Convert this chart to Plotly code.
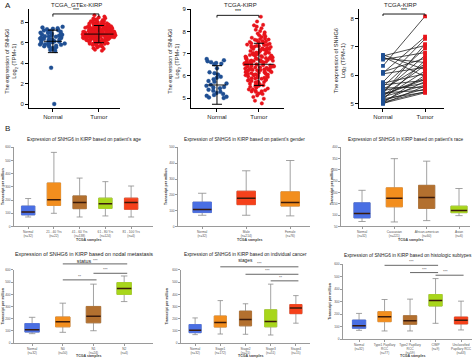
import plotly.graph_objects as go

W, H = 474, 361
FONT = "Liberation Sans, Arial, sans-serif"

# ---------------- Panel A data (log2(TPM+1)) ----------------
a_groups = ["Normal", "Tumor"]

a1_normal = [7.55, 7.48, 7.40, 7.36, 7.31, 7.22, 7.18, 7.15, 7.08, 7.02, 6.97, 6.95, 6.88, 6.84,
             6.80, 6.77, 6.71, 6.69, 6.63, 6.60, 6.58, 6.52, 6.49, 6.45, 6.41, 6.39, 6.34, 6.31,
             6.28, 6.22, 6.20, 6.17, 6.13, 6.10, 6.05, 6.02, 5.98, 5.95, 5.91, 5.86, 5.82, 5.79,
             5.74, 5.70, 5.66, 5.61, 5.55, 5.49, 5.42, 5.35, 5.28, 5.20, 3.55, 0.02]
a1_tumor = [8.68, 8.55, 8.47, 8.40, 8.36, 8.29, 8.22, 8.19, 8.13, 8.10, 8.06, 8.03, 7.99, 7.95, 7.92,
            7.90, 7.86, 7.84, 7.81, 7.78, 7.77, 7.74, 7.72, 7.70, 7.68, 7.65, 7.63, 7.61, 7.59, 7.57,
            7.56, 7.54, 7.52, 7.50, 7.48, 7.46, 7.45, 7.43, 7.41, 7.39, 7.38, 7.36, 7.34, 7.33, 7.31,
            7.29, 7.28, 7.26, 7.25, 7.23, 7.21, 7.20, 7.18, 7.17, 7.15, 7.14, 7.12, 7.11, 7.09, 7.08,
            7.07, 7.05, 7.04, 7.02, 7.01, 7.00, 6.98, 6.97, 6.96, 6.94, 6.93, 6.92, 6.90, 6.89, 6.88,
            6.87, 6.85, 6.84, 6.83, 6.81, 6.80, 6.79, 6.78, 6.76, 6.75, 6.74, 6.73, 6.71, 6.70, 6.69,
            6.68, 6.66, 6.65, 6.64, 6.62, 6.61, 6.60, 6.58, 6.57, 6.56, 6.54, 6.53, 6.51, 6.50, 6.48,
            6.47, 6.45, 6.44, 6.42, 6.41, 6.39, 6.37, 6.36, 6.34, 6.32, 6.30, 6.29, 6.27, 6.25, 6.23,
            6.21, 6.19, 6.17, 6.15, 6.13, 6.11, 6.09, 6.06, 6.04, 6.01, 5.98, 5.95, 5.92, 5.89, 5.86,
            5.82, 5.78, 5.74, 5.70, 5.65, 5.60, 5.54, 5.47, 5.40, 5.31, 5.22,
            7.62, 7.44, 7.27, 7.13, 6.99, 6.86, 6.72, 6.59, 6.46, 6.33, 7.71, 7.49, 7.35, 7.19, 7.06,
            6.91, 6.77, 6.63, 6.52, 6.38, 7.58, 7.40, 7.24, 7.10, 6.95, 6.82, 6.67, 6.55, 6.43, 6.26,
            8.25, 7.97, 7.83, 7.53, 7.30, 7.03, 6.74, 6.49, 6.18, 5.90]
a1_mean = [6.13, 6.84]
a1_err = [1.10, 0.84]

a2_normal = [6.76, 6.70, 6.66, 6.62, 6.58, 6.55, 6.52, 6.34, 6.16, 6.12, 6.06, 5.96, 5.85, 5.77,
             5.73, 5.66, 5.60, 5.55, 5.50, 5.44, 5.38, 5.33, 5.28, 5.23, 5.18, 5.14, 5.10, 5.06,
             5.03, 5.00, 5.48, 5.92]
a2_tumor = [8.67, 8.30, 8.22, 8.15, 8.08, 8.02, 7.96, 7.91, 7.87, 7.83, 7.79, 7.75, 7.72, 7.69, 7.66,
            7.63, 7.60, 7.57, 7.55, 7.52, 7.50, 7.47, 7.45, 7.43, 7.40, 7.38, 7.36, 7.34, 7.32, 7.30,
            7.28, 7.26, 7.24, 7.22, 7.20, 7.18, 7.16, 7.14, 7.12, 7.10, 7.08, 7.06, 7.05, 7.03, 7.01,
            6.99, 6.97, 6.96, 6.94, 6.92, 6.90, 6.89, 6.87, 6.85, 6.84, 6.82, 6.80, 6.79, 6.77, 6.76,
            6.74, 6.72, 6.71, 6.69, 6.68, 6.66, 6.65, 6.63, 6.62, 6.60, 6.59, 6.57, 6.56, 6.54, 6.53,
            6.51, 6.50, 6.48, 6.47, 6.45, 6.44, 6.42, 6.41, 6.39, 6.38, 6.36, 6.35, 6.33, 6.32, 6.30,
            6.29, 6.27, 6.26, 6.24, 6.22, 6.21, 6.19, 6.17, 6.16, 6.14, 6.12, 6.10, 6.09, 6.07, 6.05,
            6.03, 6.01, 5.99, 5.97, 5.95, 5.93, 5.91, 5.89, 5.87, 5.84, 5.82, 5.79, 5.77, 5.74, 5.71,
            5.68, 5.65, 5.62, 5.58, 5.55, 5.51, 5.47, 5.43, 5.39, 5.35, 5.31, 5.27, 5.23, 5.18, 5.12,
            5.05, 4.97, 4.88, 4.76,
            7.53, 7.35, 7.19, 7.04, 6.91, 6.78, 6.64, 6.52, 6.40, 6.28, 6.15, 6.02, 5.88, 5.72, 5.53,
            5.33, 7.64, 7.41, 7.21, 7.00, 6.83, 6.67, 6.46, 6.25, 6.06, 5.81, 5.60, 5.40, 8.45, 8.28,
            5.30, 5.20]
a2_mean = [5.59, 6.52]
a2_err = [0.87, 0.95]

a3_normal = [6.72, 6.68, 6.65, 6.60, 6.55, 6.33, 6.12, 6.08, 6.05, 5.76, 5.72, 5.66, 5.60, 5.55,
             5.50, 5.46, 5.42, 5.38, 5.35, 5.31, 5.28, 5.24, 5.20, 5.17, 5.14, 5.11, 5.08, 5.05,
             5.03, 5.01, 4.99, 5.30]
a3_tumor = [6.20, 7.05, 5.95, 6.45, 6.80, 8.08, 6.60, 7.36, 6.28, 7.28, 6.05, 5.82, 6.95, 5.58,
            6.40, 5.72, 6.70, 5.47, 7.10, 5.90, 6.35, 5.65, 6.15, 5.40, 6.52, 5.52, 5.78, 5.42,
            6.00, 5.38, 5.62, 5.85]

# ---------------- Panel B data (transcript per million) ----------------
age_cats = ["Normal<br>(n=32)", "21 - 40 Yrs<br>(n=22)", "41 - 60 Yrs<br>(n=138)",
            "61 - 80 Yrs<br>(n=124)", "81 - 100 Yrs<br>(n=4)"]
age_lo = [72, 100, 72, 80, 72]
age_q1 = [88, 160, 135, 137, 130]
age_med = [110, 202, 182, 172, 182]
age_q3 = [155, 330, 232, 215, 215]
age_hi = [212, 562, 367, 340, 307]

gender_cats = ["Normal<br>(n=32)", "Male<br>(n=214)", "Female<br>(n=76)"]
gender_lo = [71, 71, 67]
gender_q1 = [88, 138, 129]
gender_med = [108, 179, 152]
gender_q3 = [154, 223, 219]
gender_hi = [210, 352, 417]

race_cats = ["Normal<br>(n=32)", "Caucasian<br>(n=221)", "African-american<br>(n=60)", "Asian<br>(n=6)"]
race_lo = [72, 70, 76, 98]
race_q1 = [88, 137, 130, 111]
race_med = [107, 175, 178, 121]
race_q3 = [155, 221, 232, 140]
race_hi = [210, 350, 339, 218]

nodal_cats = ["Normal<br>(n=32)", "N0<br>(n=50)", "N1<br>(n=24)", "N2<br>(n=4)"]
nodal_lo = [78, 89, 102, 341]
nodal_q1 = [91, 134, 167, 400]
nodal_med = [110, 175, 220, 449]
nodal_q3 = [161, 215, 301, 497]
nodal_hi = [212, 328, 484, 551]
nodal_sig = [(1, 3, 650, "***"), (2, 3, 573, "***"), (1, 2, 519, "**")]

stage_cats = ["Normal<br>(n=32)", "Stage1<br>(n=172)", "Stage2<br>(n=21)", "Stage3<br>(n=51)", "Stage4<br>(n=15)"]
stage_lo = [70, 75, 73, 67, 164]
stage_q1 = [86, 132, 142, 134, 242]
stage_med = [105, 169, 194, 177, 288]
stage_q3 = [153, 223, 263, 274, 317]
stage_hi = [207, 349, 323, 484, 390]
stage_sig = [(1, 4, 626, "***"), (2, 4, 565, "***"), (3, 4, 511, "**")]

hist_cats = ["Normal<br>(n=32)", "Type1 Papillary<br>RCC<br>(n=77)", "Type2 Papillary<br>RCC<br>(n=59)",
             "CIMP<br>(n=9)", "Unclassified<br>Papillary RCC<br>(n=63)"]
hist_lo = [71, 66, 66, 127, 74]
hist_q1 = [87, 140, 119, 265, 122]
hist_med = [108, 180, 148, 310, 151]
hist_q3 = [153, 220, 188, 357, 177]
hist_hi = [206, 317, 320, 484, 304]
hist_sig = [(1, 3, 590, "***"), (2, 3, 532, "***"), (3, 4, 511, "***")]

# ---------------- styling ----------------
BLUE_PT = "#1f4f93"
RED_PT = "#e8141b"
C_BLUE = "#4a6fe3"
C_ORANGE = "#f28e1e"
C_BROWN = "#b3702f"
C_LIME = "#a8d61b"
C_RED = "#f5411b"
MED = "#3a1b0c"
WHISK = "#8c8c8c"

fig = go.Figure()
layout = dict(width=W, height=H, margin=dict(l=0, r=0, t=0, b=0),
              paper_bgcolor="white", plot_bgcolor="white", showlegend=False,
              font=dict(family=FONT, color="#222"))
annotations = []
shapes = []


def fx(p):
    return p / W


def fy(p):
    return 1 - p / H


def names(i):
    s = "" if i == 1 else str(i)
    return "x" + s, "y" + s, "xaxis" + s, "yaxis" + s


def add_text(text, xp, yp, size, angle=0, xanchor="center", yanchor="middle", bold=False, color="#222"):
    if bold:
        text = "<b>" + text + "</b>"
    annotations.append(dict(text=text, x=fx(xp), y=fy(yp), xref="paper", yref="paper",
                            showarrow=False, textangle=angle, xanchor=xanchor, yanchor=yanchor,
                            font=dict(size=size, family=FONT, color=color)))


def bracket(i, a, b, v, label, xr, yr, tick=0.0, color="black", width=0.9, fsize=5):
    xn, yn, _, _ = names(i)
    xd = lambda x: (x - xr[0]) / (xr[1] - xr[0])
    yd = lambda y: (y - yr[0]) / (yr[1] - yr[0])
    ln = dict(color=color, width=width)
    shapes.append(dict(type="line", xref=xn + " domain", yref=yn + " domain",
                       x0=xd(a), x1=xd(b), y0=yd(v), y1=yd(v), line=ln))
    if tick:
        for xx in (a, b):
            shapes.append(dict(type="line", xref=xn + " domain", yref=yn + " domain",
                               x0=xd(xx), x1=xd(xx), y0=yd(v), y1=yd(v - tick), line=ln))
    annotations.append(dict(text=label, xref=xn + " domain", yref=yn + " domain",
                            x=xd((a + b) / 2), y=yd(v), yanchor="bottom", showarrow=False,
                            yshift=-1, font=dict(size=fsize, family=FONT, color=color)))


# ---------------- Row A ----------------
rowA = [
    dict(i=1, xd=(29, 120), xr=[-0.52, 1.46], yr=[-0.36, 9.3], yt=[0, 2, 4, 6, 8],
         title="TCGA_GTEx-KIRP", tx=76, ytx=11.5, sig=(8.81, 0.26)),
    dict(i=2, xd=(191, 284), xr=[-0.62, 1.6], yr=[4.56, 9.02], yt=[5, 6, 7, 8, 9],
         title="TCGA-KIRP", tx=240, ytx=174.5, sig=(8.73, 0.10)),
    dict(i=3, xd=(359, 444), xr=[-0.57, 1.45], yr=[4.85, 8.34], yt=[5, 6, 7, 8],
         title="TCGA-KIRP", tx=400, ytx=340, sig=(8.16, 0.07)),
]
for p in rowA:
    xn, yn, xa, ya = names(p["i"])
    layout[xa] = dict(domain=[fx(p["xd"][0]), fx(p["xd"][1])], range=p["xr"], anchor=yn,
                      showline=True, linecolor="black", linewidth=1, ticks="outside", ticklen=3,
                      tickwidth=1, tickcolor="black", tickvals=[0, 1], ticktext=a_groups,
                      tickfont=dict(size=6, color="#222"), showgrid=False, zeroline=False)
    layout[ya] = dict(domain=[fy(107), fy(7)], range=p["yr"], anchor=xn,
                      showline=True, linecolor="black", linewidth=1, ticks="outside", ticklen=3,
                      tickwidth=1, tickcolor="black", tickvals=p["yt"],
                      tickfont=dict(size=6, color="#222"), showgrid=False, zeroline=False)
    add_text(p["title"], p["tx"], 3.5, 6)
    add_text("The expression of SNHG6<br>Log<sub>2</sub> (TPM+1)", p["ytx"], 60, 5.6, angle=-90)
    bracket(p["i"], 0, 1, p["sig"][0], "***", p["xr"], p["yr"], tick=p["sig"][1], fsize=5)

add_text("A", 3, 3.5, 8, xanchor="left")
add_text("B", 3, 128, 8, xanchor="left")

# strip panels 1 and 2
for i, normal, tumor, mean, err in [(1, a1_normal, a1_tumor, a1_mean, a1_err),
                                     (2, a2_normal, a2_tumor, a2_mean, a2_err)]:
    xn, yn, _, _ = names(i)
    for pos, vals, col, w, sz in [(0, normal, BLUE_PT, 0.62, 4.0), (1, tumor, RED_PT, 0.72, 3.6)]:
        fig.add_trace(go.Box(y=vals, x0=pos, width=w, boxpoints="all", jitter=1.0, pointpos=0,
                             fillcolor="rgba(0,0,0,0)", line=dict(width=0, color="rgba(0,0,0,0)"),
                             marker=dict(color=col, size=sz, line=dict(width=0.3, color=col)),
                             hoverinfo="y", xaxis=xn, yaxis=yn))
    fig.add_trace(go.Scatter(x=[0, 1], y=mean, mode="markers", xaxis=xn, yaxis=yn,
                             marker=dict(symbol="line-ew", size=[13, 21], color="black",
                                         line=dict(width=1.3, color="black")),
                             error_y=dict(type="data", array=err, color="black", thickness=1, width=5)))

# paired panel 3
xn, yn, _, _ = names(3)
lx, ly = [], []
for n, t in zip(a3_normal, a3_tumor):
    lx += [0, 1, None]
    ly += [n, t, None]
fig.add_trace(go.Scatter(x=lx, y=ly, mode="lines", line=dict(color="#222", width=0.8),
                         xaxis=xn, yaxis=yn, hoverinfo="skip"))
fig.add_trace(go.Scatter(x=[0] * len(a3_normal), y=a3_normal, mode="markers", xaxis=xn, yaxis=yn,
                         marker=dict(color=BLUE_PT, size=3.8, symbol="square")))
fig.add_trace(go.Scatter(x=[1] * len(a3_tumor), y=a3_tumor, mode="markers", xaxis=xn, yaxis=yn,
                         marker=dict(color=RED_PT, size=3.8, symbol="square")))

# ---------------- Rows B / C (box plots) ----------------
boxpanels = [
    dict(i=4, xd=(14, 153), yd=(147, 227), xr=[-0.55, 4.85], yr=[0, 600], yt=list(range(0, 601, 100)),
         cats=age_cats, lo=age_lo, q1=age_q1, med=age_med, q3=age_q3, hi=age_hi,
         cols=[C_BLUE, C_ORANGE, C_BROWN, C_LIME, C_RED], w=0.52,
         title="Expression of SNHG6 in KIRP based on patient's age", tfs=4.8, ty=139, yl=3, sx=240.5, sig=[]),
    dict(i=5, xd=(178, 310), yd=(147, 227), xr=[-0.55, 2.45], yr=[0, 500], yt=list(range(0, 501, 100)),
         cats=gender_cats, lo=gender_lo, q1=gender_q1, med=gender_med, q3=gender_q3, hi=gender_hi,
         cols=[C_BLUE, C_RED, C_ORANGE], w=0.42,
         title="Expression of SNHG6 in KIRP based on patient's gender", tfs=4.8, ty=139, yl=166, sx=240.5, sig=[]),
    dict(i=6, xd=(341, 470), yd=(147, 227), xr=[-0.65, 3.34], yr=[50, 400], yt=list(range(50, 401, 50)),
         cats=race_cats, lo=race_lo, q1=race_q1, med=race_med, q3=race_q3, hi=race_hi,
         cols=[C_BLUE, C_ORANGE, C_BROWN, C_LIME], w=0.5,
         title="Expression of SNHG6 in KIRP based on patient's race", tfs=4.8, ty=139, yl=332, sx=240.5, sig=[]),
    dict(i=7, xd=(14, 153), yd=(271, 345), xr=[-0.59, 3.94], yr=[0, 600], yt=list(range(0, 601, 100)),
         cats=nodal_cats, lo=nodal_lo, q1=nodal_q1, med=nodal_med, q3=nodal_q3, hi=nodal_hi,
         cols=[C_BLUE, C_ORANGE, C_BROWN, C_LIME], w=0.47,
         title="Expression of SNHG6 in KIRP based on nodal metastasis<br>status", tfs=5.4, ty=258.5, yl=3, sx=358,
         sig=nodal_sig),
    dict(i=8, xd=(181, 310), yd=(271, 345), xr=[-0.56, 4.56], yr=[0, 600], yt=list(range(0, 601, 100)),
         cats=stage_cats, lo=stage_lo, q1=stage_q1, med=stage_med, q3=stage_q3, hi=stage_hi,
         cols=[C_BLUE, C_ORANGE, C_BROWN, C_LIME, C_RED], w=0.48,
         title="Expression of SNHG6 in KIRP based on individual cancer<br>stages", tfs=4.8, ty=258.5, yl=167, sx=358,
         sig=stage_sig),
    dict(i=9, xd=(343, 472), yd=(265, 341), xr=[-0.63, 4.43], yr=[0, 600], yt=list(range(0, 601, 100)),
         cats=hist_cats, lo=hist_lo, q1=hist_q1, med=hist_med, q3=hist_q3, hi=hist_hi,
         cols=[C_BLUE, C_ORANGE, C_BROWN, C_LIME, C_RED], w=0.52,
         title="Expression of SNHG6 in KIRP based on histologic subtypes", tfs=4.8, ty=256, yl=330, sx=358,
         sig=hist_sig),
]

for p in boxpanels:
    xn, yn, xa, ya = names(p["i"])
    n = len(p["cats"])
    layout[xa] = dict(domain=[fx(p["xd"][0]), fx(p["xd"][1])], range=p["xr"], anchor=yn,
                      showline=True, linecolor="#9a9a9a", linewidth=0.7, ticks="outside", ticklen=2,
                      tickwidth=0.6, tickcolor="#9a9a9a", tickvals=list(range(n)), ticktext=p["cats"],
                      tickfont=dict(size=3.2, color="#555"), showgrid=False, zeroline=False)
    layout[ya] = dict(domain=[fy(p["yd"][1]), fy(p["yd"][0])], range=p["yr"], anchor=xn,
                      showline=True, linecolor="#9a9a9a", linewidth=0.7, ticks="outside", ticklen=2,
                      tickwidth=0.6, tickcolor="#9a9a9a", tickvals=p["yt"],
                      tickfont=dict(size=3.2, color="#555"), showgrid=False, zeroline=False)
    for k in range(n):
        # whiskers
        fig.add_trace(go.Box(x=[k], q1=[p["q1"][k]], median=[p["med"][k]], q3=[p["q3"][k]],
                             lowerfence=[p["lo"][k]], upperfence=[p["hi"][k]], width=p["w"],
                             whiskerwidth=0.45, fillcolor="rgba(0,0,0,0)",
                             line=dict(color=WHISK, width=0.8), xaxis=xn, yaxis=yn))
        # coloured box
        fig.add_trace(go.Box(x=[k], q1=[p["q1"][k]], median=[p["med"][k]], q3=[p["q3"][k]],
                             lowerfence=[p["q1"][k]], upperfence=[p["q3"][k]], width=p["w"],
                             whiskerwidth=0, fillcolor=p["cols"][k],
                             line=dict(color=p["cols"][k], width=0.8), xaxis=xn, yaxis=yn))
    mx, my = [], []
    for k in range(n):
        mx += [k - p["w"] / 2, k + p["w"] / 2, None]
        my += [p["med"][k], p["med"][k], None]
    fig.add_trace(go.Scatter(x=mx, y=my, mode="lines", line=dict(color=MED, width=1.5),
                             xaxis=xn, yaxis=yn, hoverinfo="skip"))
    cx = (p["xd"][0] + p["xd"][1]) / 2
    add_text(p["title"], cx, p["ty"], p["tfs"])
    add_text("TCGA samples", cx + 5, p["sx"], 3.6, bold=True, color="#444")
    add_text("Transcript per million", p["yl"], (p["yd"][0] + p["yd"][1]) / 2, 3.6, angle=-90,
             bold=True, color="#333")
    for (a, b, v, lab) in p["sig"]:
        bracket(p["i"], a, b + 0.1, v, lab, p["xr"], p["yr"], color="#555", width=0.9, fsize=4)

layout["annotations"] = annotations
layout["shapes"] = shapes
layout["boxmode"] = "overlay"
fig.update_layout(**layout)
fig.write_html("out.html", config={"displayModeBar": False},
               post_script="document.body.style.margin='0';document.body.style.overflow='hidden';")
